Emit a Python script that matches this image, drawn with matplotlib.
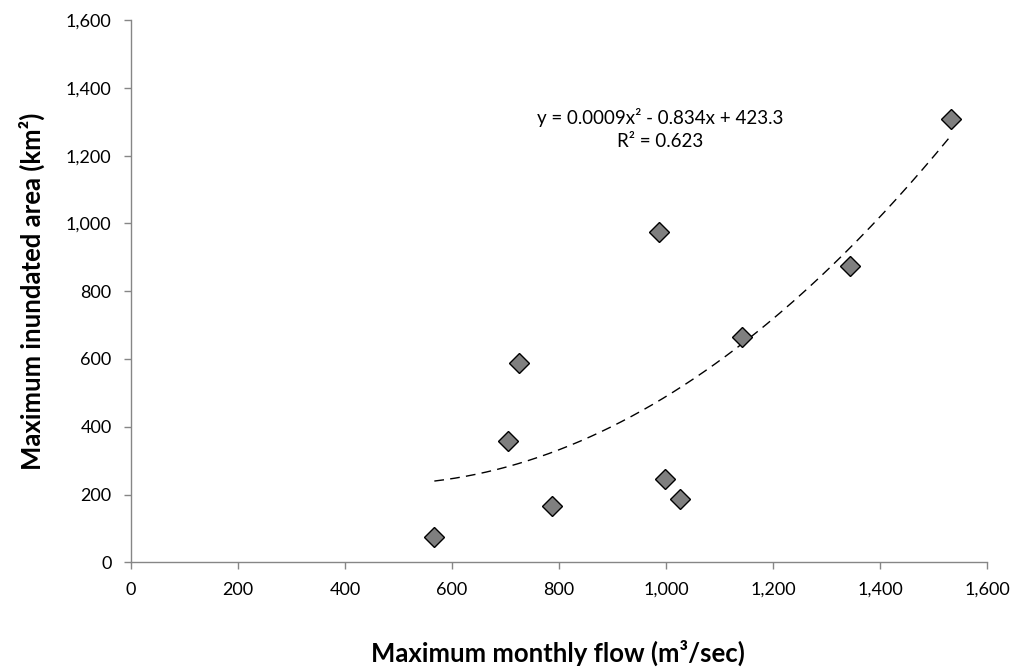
import matplotlib
matplotlib.use("Agg")
import matplotlib.pyplot as plt
import numpy as np
from matplotlib.ticker import FuncFormatter

# Data
flow = [567, 704, 725, 787, 987, 998, 1026, 1142, 1343, 1533]
area = [76, 358, 589, 165, 976, 246, 186, 664, 874, 1307]

# Polynomial trend line coefficients (as labelled)
trend_coef = [0.0009, -0.834, 423.3]
trend_label = "y = 0.0009x² - 0.834x + 423.3\nR² = 0.623"

x_ticks = [0, 200, 400, 600, 800, 1000, 1200, 1400, 1600]
y_ticks = [0, 200, 400, 600, 800, 1000, 1200, 1400, 1600]

plt.rcParams['font.family'] = ['Lato', 'DejaVu Sans']

fig = plt.figure(figsize=(10.17, 6.71), dpi=100)
ax = fig.add_axes([0.1288, 0.162, 0.8417, 0.808])

xs = np.linspace(min(flow), max(flow), 200)
ax.plot(xs, np.polyval(trend_coef, xs), color='black', lw=1.0,
        linestyle=(0, (7, 4.5)), zorder=2)
ax.plot(flow, area, linestyle='none', marker='D', markersize=10,
        markerfacecolor='#7F7F7F', markeredgecolor='black',
        markeredgewidth=1.0, zorder=3)

ax.set_xlim(0, 1600)
ax.set_ylim(0, 1600)
ax.set_xticks(x_ticks)
ax.set_yticks(y_ticks)
fmt = FuncFormatter(lambda v, p: f"{int(v):,}")
ax.xaxis.set_major_formatter(fmt)
ax.yaxis.set_major_formatter(fmt)

for s in ['top', 'right']:
    ax.spines[s].set_visible(False)
for s in ['left', 'bottom']:
    ax.spines[s].set_color('#868686')
    ax.spines[s].set_linewidth(1.0)
ax.tick_params(axis='both', direction='out', length=5, width=1.0,
               color='#868686', labelsize=13, labelcolor='black')
ax.tick_params(axis='x', pad=9)
ax.tick_params(axis='y', pad=9)

ax.text(989, 1278, trend_label, ha='center', va='center', fontsize=13.5,
        linespacing=1.45)

fig.text(0.549, 0.027, "Maximum monthly flow (m³/sec)", ha='center',
         va='center', fontsize=18.5, fontweight='bold')
fig.text(0.031, 0.566, "Maximum inundated area (km²)", ha='center',
         va='center', fontsize=18.5, fontweight='bold', rotation=90)

fig.savefig("out.png", dpi=100)
